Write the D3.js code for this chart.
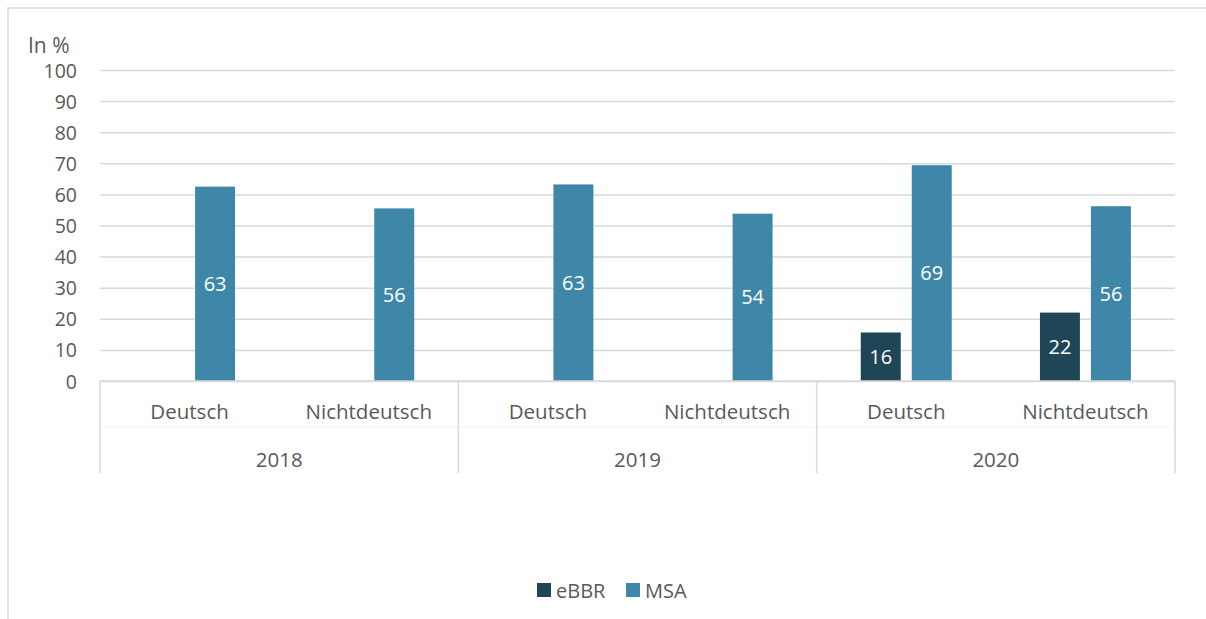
<!DOCTYPE html>
<html>
<head>
<meta charset="utf-8">
<title>eBBR / MSA</title>
<script src="https://cdn.jsdelivr.net/npm/d3@7"></script>
<style>
  body { margin: 0; background: #fff; }
  text { font-family: "Open Sans", Calibri, sans-serif; fill: #595959; }
  .grid line { stroke: #d9d9d9; stroke-width: 1.5; }
  .grid path { display: none; }
  .ytick text { font-size: 19.5px; }
  .lbl { fill: #fff; font-size: 20px; text-anchor: middle; }
</style>
</head>
<body>
<script>
// data
var years = ["2018", "2019", "2020"];
var groups = ["Deutsch", "Nichtdeutsch"];
var series = ["eBBR", "MSA"];
var colors = ["#1f4657", "#3f87a8"];
// values per (year, group); null = no bar
var eBBR = [null, null, null, null, 15.6, 22.0];
var MSA = [62.5, 55.5, 63.2, 53.8, 69.4, 56.2];
var yTicks = [0, 10, 20, 30, 40, 50, 60, 70, 80, 90, 100];

var width = 1206, height = 619;
var plotL = 100, plotR = 1175, plotT = 70, plotB = 381;

var svg = d3.select("body").append("svg")
  .attr("width", width).attr("height", height);

// outer border
svg.append("rect")
  .attr("x", 8).attr("y", 8).attr("width", 1220).attr("height", 640)
  .attr("fill", "none").attr("stroke", "#d9d9d9").attr("stroke-width", 1.5);

var cats = [];
years.forEach(function (y) { groups.forEach(function (g) { cats.push(y + "|" + g); }); });

var rows = cats.map(function (c, i) {
  return { cat: c, values: [eBBR[i], MSA[i]] };
});

var yScale = d3.scaleLinear().domain([0, 100]).range([plotB, plotT]);
var x0 = d3.scaleBand().domain(cats).range([plotL, plotR]).padding(0);
var x1 = d3.scaleBand().domain(series).range([0, x0.bandwidth()])
  .paddingInner(0.216).paddingOuter(0.865);
var yearScale = d3.scaleBand().domain(years).range([plotL, plotR]).padding(0);

// gridlines + y labels
var yAxis = d3.axisLeft(yScale).tickValues(yTicks)
  .tickSize(-(plotR - plotL)).tickPadding(23);
var gy = svg.append("g").attr("class", "grid ytick")
  .attr("transform", "translate(" + plotL + ",0)")
  .call(yAxis);
gy.select(".domain").remove();
gy.selectAll("text").attr("dy", "0.36em");

svg.append("text").attr("x", 28).attr("y", 53)
  .style("font-size", "21px").text("In %");

// bars
var cg = svg.selectAll(".cat").data(rows).enter().append("g")
  .attr("transform", function (d) { return "translate(" + x0(d.cat) + ",0)"; });

var bars = cg.selectAll("g.bar").data(function (d) {
  return d.values.map(function (v, i) { return { s: series[i], v: v, i: i }; })
    .filter(function (e) { return e.v !== null; });
}).enter().append("g").attr("class", "bar");

bars.append("rect")
  .attr("x", function (d) { return x1(d.s); })
  .attr("y", function (d) { return yScale(d.v); })
  .attr("width", x1.bandwidth())
  .attr("height", function (d) { return yScale(0) - yScale(d.v); })
  .attr("fill", function (d) { return colors[d.i]; });

bars.append("text").attr("class", "lbl")
  .attr("x", function (d) { return x1(d.s) + x1.bandwidth() / 2; })
  .attr("y", function (d) { return (yScale(d.v) + yScale(0)) / 2 + 7; })
  .text(function (d) { return d3.format(".0f")(d.v); });

// category axis
svg.append("line").attr("x1", plotL).attr("x2", plotR)
  .attr("y1", plotB).attr("y2", plotB)
  .attr("stroke", "#d9d9d9").attr("stroke-width", 1.5);
svg.append("line").attr("x1", plotL).attr("x2", plotR)
  .attr("y1", 427).attr("y2", 427)
  .attr("stroke", "#f4f4f4").attr("stroke-width", 1);

var seps = years.map(function (y) { return yearScale(y); }).concat([plotR]);
svg.selectAll(".sep").data(seps).enter().append("line")
  .attr("x1", function (d) { return d; }).attr("x2", function (d) { return d; })
  .attr("y1", plotB).attr("y2", 473)
  .attr("stroke", "#d9d9d9").attr("stroke-width", 1.5);

svg.selectAll(".sub").data(cats).enter().append("text")
  .attr("x", function (d) { return x0(d) + x0.bandwidth() / 2; })
  .attr("y", 419).attr("text-anchor", "middle")
  .style("font-size", "20.5px")
  .text(function (d) { return d.split("|")[1]; });

svg.selectAll(".yr").data(years).enter().append("text")
  .attr("x", function (d) { return yearScale(d) + yearScale.bandwidth() / 2; })
  .attr("y", 467).attr("text-anchor", "middle")
  .style("font-size", "20.5px")
  .text(function (d) { return d; });

// legend
var lg = svg.append("g").attr("transform", "translate(537,583)");
var li = lg.selectAll("g").data(series).enter().append("g")
  .attr("transform", function (d, i) { return "translate(" + (i * 89) + ",0)"; });
li.append("rect").attr("width", 14).attr("height", 14)
  .attr("fill", function (d, i) { return colors[i]; });
li.append("text").attr("x", 19).attr("y", 15)
  .style("font-size", "20px").text(function (d) { return d; });
</script>
</body>
</html>
